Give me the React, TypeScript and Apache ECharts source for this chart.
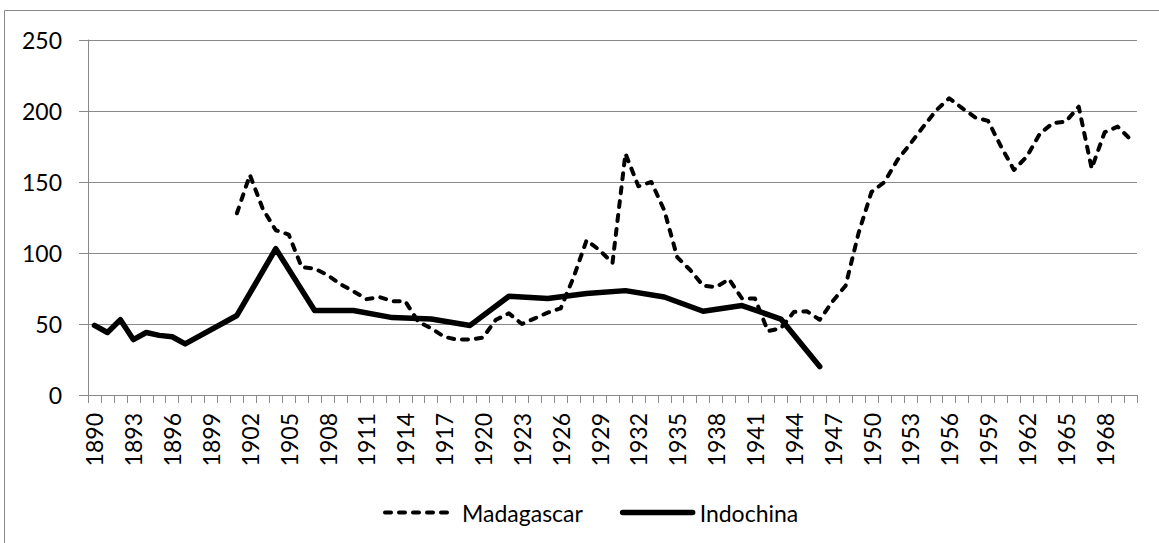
import React, { useEffect, useRef } from "react";
import * as echarts from "echarts";

const years: string[] = [];
for (let y = 1890; y <= 1970; y++) years.push(String(y));

// 1890 .. 1970
const madagascar: (number | null)[] = [
  null, null, null, null, null, null, null, null, null, null, // 1890-1899
  null, 128, 155, 131, 116, 113, 90, 89, 84.5, 78, // 1900-1909
  73, 67.5, 69, 66, 66, 51.5, 47, 41, 39, 39, // 1910-1919
  40.5, 53, 57.5, 50, 54, 58, 61, 83, 109, 102, // 1920-1929
  93, 170, 147, 150, 130, 97, 88, 77, 76, 81.5, // 1930-1939
  68, 68, 45, 47, 58.5, 59, 53, 66, 77, 114, // 1940-1949
  143, 150, 165.5, 177, 189, 200.5, 209, 202, 195.5, 193, // 1950-1959
  175, 158.5, 168, 184, 191.5, 192.5, 203, 159.5, 185, 189, // 1960-1969
  180, // 1970
];

const indochina: (number | null)[] = [
  49, 44, 53, 39, 44, 42, 41, 36, null, null, // 1890-1899
  null, 56, null, null, 103, null, null, 59.5, null, null, // 1900-1909
  59.5, null, null, 54.5, null, null, 53.5, null, null, 49, // 1910-1919
  null, null, 69.5, null, null, 68, null, null, 71.5, null, // 1920-1929
  null, 73.5, null, null, 69, null, null, 59, null, null, // 1930-1939
  63, null, null, 53.5, null, null, 20, null, null, null, // 1940-1949
  null, null, null, null, null, null, null, null, null, null, // 1950-1959
  null, null, null, null, null, null, null, null, null, null, // 1960-1969
  null, // 1970
];

const yTicks = { min: 0, max: 250, interval: 50 };

const FONT = "Lato";
const GRAY = "#898989";

export default function App() {
  const ref = useRef<HTMLDivElement>(null);
  useEffect(() => {
    if (!ref.current) return;
    const chart = echarts.init(ref.current, undefined, { renderer: "svg" });
    chart.setOption({
      animation: false,
      backgroundColor: "#ffffff",
      textStyle: { fontFamily: FONT },
      graphic: [
        {
          type: "rect",
          shape: { x: 4.5, y: 10.5, width: 1300, height: 700 },
          style: { fill: "none", stroke: GRAY, lineWidth: 1 },
          silent: true,
        },
      ],
      grid: { left: 88, right: 22, top: 40, bottom: 148, containLabel: false },
      legend: {
        left: 378,
        top: 496,
        itemWidth: 70,
        itemHeight: 14,
        itemGap: 37,
        itemStyle: { opacity: 0 },
        lineStyle: { width: "inherit" },
        textStyle: { fontFamily: FONT, fontSize: 23, color: "#000", padding: [0, 0, 0, 2] },
        data: ["Madagascar", "Indochina"],
      },
      xAxis: {
        type: "category",
        data: years,
        boundaryGap: true,
        axisLine: { show: true, lineStyle: { color: GRAY, width: 1 } },
        axisTick: { show: true, interval: 0, length: 8, lineStyle: { color: GRAY } },
        axisLabel: {
          interval: 2,
          rotate: 90,
          margin: 18,
          fontFamily: FONT,
          fontSize: 23,
          color: "#000",
        },
        splitLine: { show: false },
      },
      yAxis: {
        type: "value",
        min: yTicks.min,
        max: yTicks.max,
        interval: yTicks.interval,
        axisLine: { show: true, lineStyle: { color: GRAY, width: 1 } },
        axisTick: { show: true, length: 9, lineStyle: { color: GRAY } },
        axisLabel: { margin: 26, fontFamily: FONT, fontSize: 23, color: "#000" },
        splitLine: { show: true, lineStyle: { color: GRAY, width: 1 } },
      },
      series: [
        {
          name: "Madagascar",
          type: "line",
          data: madagascar,
          connectNulls: true,
          symbol: "none",
          showSymbol: false,
          lineStyle: { color: "#000", width: 4, type: [6, 8], cap: "round", join: "round" },
          itemStyle: { color: "#000" },
        },
        {
          name: "Indochina",
          type: "line",
          data: indochina,
          connectNulls: true,
          symbol: "none",
          showSymbol: false,
          lineStyle: { color: "#000", width: 5.5, type: "solid", cap: "round", join: "round" },
          itemStyle: { color: "#000" },
        },
      ],
    });
    return () => chart.dispose();
  }, []);
  return (
    <div
      ref={ref}
      style={{ position: "fixed", left: 0, top: 0, width: 1159, height: 543 }}
    />
  );
}
